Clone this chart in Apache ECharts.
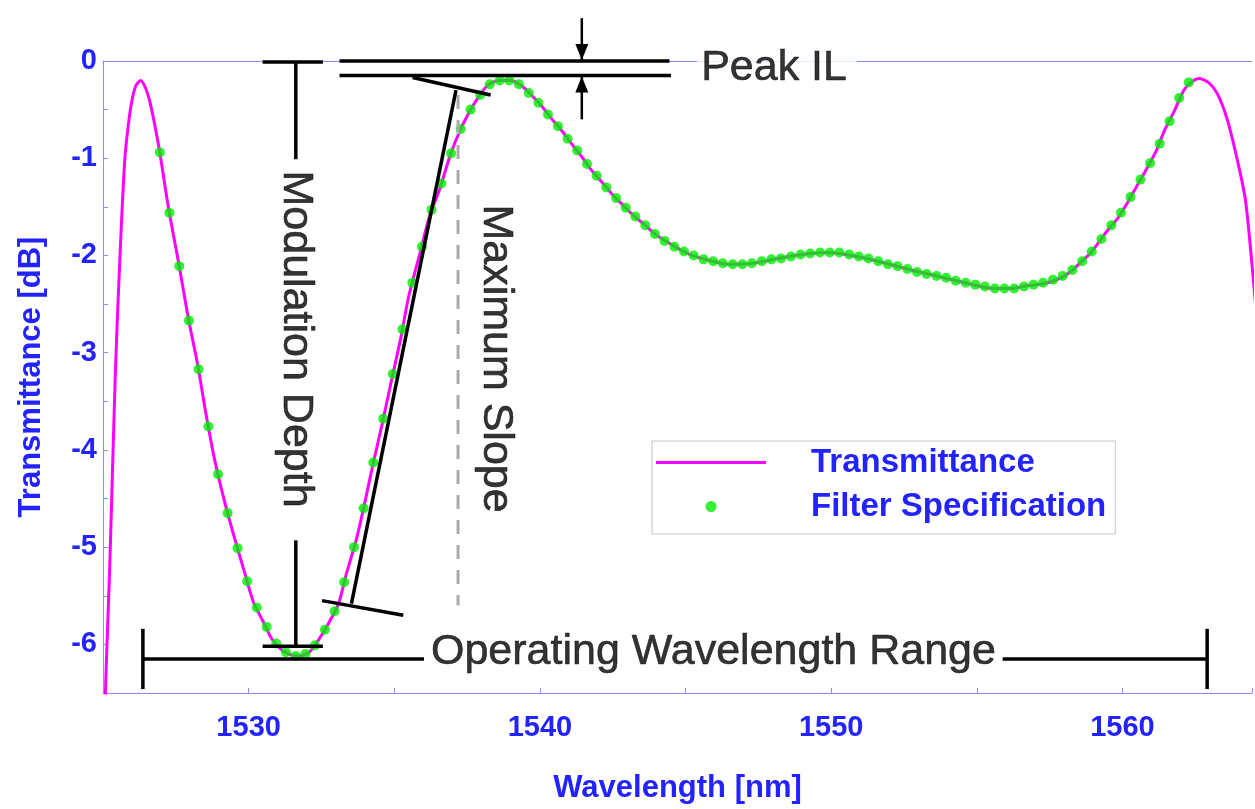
<!DOCTYPE html>
<html>
<head>
<meta charset="utf-8">
<script src="https://cdn.jsdelivr.net/npm/echarts@6/dist/echarts.min.js"></script>
<style>
  html, body { margin: 0; padding: 0; background: #ffffff; }
  #chart { width: 1255px; height: 809px; }
</style>
</head>
<body>
<div id="chart"></div>
<script>
// ---- Transmittance curve (magenta line) ----
const wavelength = [
  1525.07, 1525.10, 1525.16, 1525.22, 1525.32, 1525.42, 1525.50, 1525.58, 1525.66, 1525.75,
  1525.86, 1525.98, 1526.12, 1526.29, 1526.45, 1526.61, 1526.78, 1526.95, 1527.11, 1527.27,
  1527.60, 1527.92, 1528.26, 1528.53, 1528.84, 1529.19, 1529.52, 1529.87, 1530.17, 1530.49,
  1530.81, 1531.15, 1531.48, 1531.75, 1532.08, 1532.41, 1532.75, 1533.09, 1533.35, 1533.69,
  1533.97, 1534.26, 1534.58, 1534.91, 1535.23, 1535.49, 1535.88, 1536.20, 1536.58, 1536.91,
  1537.25, 1537.57, 1537.85, 1538.20, 1538.60, 1539.00, 1539.39, 1539.74, 1540.08, 1540.42,
  1540.76, 1541.11, 1541.45, 1541.79, 1542.14, 1542.48, 1542.88, 1543.22, 1543.62, 1543.96,
  1544.36, 1544.76, 1545.22, 1545.80, 1546.47, 1547.30, 1548.18, 1549.00, 1549.90, 1551.03,
  1552.00, 1552.74, 1553.60, 1554.45, 1555.60, 1556.20, 1556.75, 1557.09, 1557.55, 1557.95,
  1558.29, 1558.57, 1558.89, 1559.20, 1559.52, 1559.83, 1560.17, 1560.49, 1560.83, 1561.17,
  1561.45, 1561.79, 1562.11, 1562.40, 1562.63, 1562.95, 1563.25, 1563.60, 1563.94, 1564.22,
  1564.39, 1564.60, 1564.80
];
const transmittance = [
  -6.60, -6.33, -5.80, -5.31, -4.28, -3.25, -2.60, -2.03, -1.50, -1.01,
  -0.68, -0.43, -0.26, -0.20, -0.27, -0.42, -0.66, -0.94, -1.25, -1.55,
  -2.08, -2.63, -3.14, -3.62, -4.11, -4.55, -4.91, -5.27, -5.57, -5.76,
  -5.95, -6.06, -6.11, -6.12, -6.08, -5.95, -5.78, -5.58, -5.28, -4.93,
  -4.57, -4.16, -3.74, -3.28, -2.84, -2.43, -1.98, -1.61, -1.30, -0.98,
  -0.72, -0.53, -0.39, -0.25, -0.20, -0.20, -0.26, -0.36, -0.47, -0.60,
  -0.72, -0.86, -0.99, -1.13, -1.25, -1.37, -1.49, -1.59, -1.69, -1.78,
  -1.86, -1.93, -2.00, -2.05, -2.09, -2.08, -2.03, -1.99, -1.97, -2.02,
  -2.09, -2.15, -2.21, -2.27, -2.34, -2.34, -2.31, -2.30, -2.27, -2.22,
  -2.15, -2.07, -1.98, -1.86, -1.73, -1.62, -1.46, -1.29, -1.11, -0.92,
  -0.71, -0.51, -0.30, -0.21, -0.18, -0.22, -0.33, -0.60, -1.01, -1.42,
  -1.90, -2.60, -3.40
];

// ---- Filter specification (green dots) ----
const specWavelength = [
  1526.95, 1527.28, 1527.62, 1527.95, 1528.28, 1528.62, 1528.95, 1529.28, 1529.62, 1529.95,
  1530.28, 1530.62, 1530.95, 1531.28, 1531.62, 1531.95, 1532.28, 1532.62, 1532.95, 1533.28,
  1533.62, 1533.95, 1534.28, 1534.62, 1534.95, 1535.28, 1535.62, 1535.95, 1536.28, 1536.62,
  1536.95, 1537.28, 1537.62, 1537.95, 1538.28, 1538.62, 1538.95, 1539.28, 1539.62, 1539.95,
  1540.28, 1540.62, 1540.95, 1541.28, 1541.62, 1541.95, 1542.28, 1542.62, 1542.95, 1543.28,
  1543.62, 1543.95, 1544.28, 1544.62, 1544.95, 1545.28, 1545.62, 1545.95, 1546.28, 1546.62,
  1546.95, 1547.28, 1547.62, 1547.95, 1548.28, 1548.62, 1548.95, 1549.28, 1549.62, 1549.95,
  1550.28, 1550.62, 1550.95, 1551.28, 1551.62, 1551.95, 1552.28, 1552.62, 1552.95, 1553.28,
  1553.62, 1553.95, 1554.28, 1554.62, 1554.95, 1555.28, 1555.62, 1555.95, 1556.28, 1556.62,
  1556.95, 1557.28, 1557.62, 1557.95, 1558.28, 1558.62, 1558.95, 1559.28, 1559.62, 1559.95,
  1560.28, 1560.62, 1560.95, 1561.28, 1561.62, 1561.95, 1562.28
];
const specTransmittance = [
  -0.94, -1.56, -2.11, -2.67, -3.17, -3.76, -4.25, -4.65, -5.01, -5.35,
  -5.62, -5.82, -5.99, -6.08, -6.12, -6.10, -6.01, -5.85, -5.66, -5.36,
  -5.00, -4.60, -4.13, -3.68, -3.22, -2.76, -2.28, -1.91, -1.53, -1.26,
  -0.95, -0.70, -0.50, -0.35, -0.24, -0.20, -0.20, -0.24, -0.33, -0.43,
  -0.55, -0.67, -0.80, -0.92, -1.06, -1.18, -1.30, -1.41, -1.51, -1.60,
  -1.69, -1.78, -1.85, -1.91, -1.96, -2.00, -2.04, -2.06, -2.08, -2.09,
  -2.09, -2.08, -2.06, -2.04, -2.03, -2.01, -1.99, -1.98, -1.97, -1.97,
  -1.97, -1.99, -2.01, -2.03, -2.06, -2.09, -2.11, -2.14, -2.17, -2.19,
  -2.21, -2.23, -2.26, -2.28, -2.30, -2.32, -2.34, -2.34, -2.34, -2.32,
  -2.30, -2.28, -2.25, -2.21, -2.15, -2.06, -1.96, -1.83, -1.69, -1.56,
  -1.40, -1.22, -1.05, -0.85, -0.62, -0.38, -0.22
];

// ---- Axis ticks ----
const xTickLabels = [1530, 1540, 1550, 1560];
const yTickLabels = [0, -1, -2, -3, -4, -5, -6];

// ---- Annotation geometry (data coordinates) ----
const annotationText = [
  { at: [1545.40, -0.07], text: 'Peak IL', rotate: 0, align: 'left', bg: true },
  { at: [1531.62, -2.86], text: 'Modulation Depth', rotate: -90, align: 'center', bg: false },
  { at: [1538.50, -3.06], text: 'Maximum Slope', rotate: -90, align: 'center', bg: false },
  { at: [1545.96, -6.08], text: 'Operating Wavelength Range', rotate: 0, align: 'center', bg: false }
];
const blackSegments = [
  // Modulation depth
  [1530.48, -0.01, 1532.55, -0.01],
  [1531.62, -0.01, 1531.62, -1.01],
  [1531.62, -4.93, 1531.62, -6.02],
  [1530.48, -6.02, 1532.55, -6.02],
  // Peak IL
  [1533.12, 0.0, 1544.45, 0.0],
  [1533.12, -0.15, 1544.50, -0.15],
  // Maximum slope
  [1537.12, -0.30, 1533.53, -5.58],
  [1535.63, -0.17, 1538.31, -0.35],
  [1532.52, -5.55, 1535.31, -5.70],
  // Operating wavelength range
  [1526.37, -6.15, 1536.02, -6.15],
  [1555.89, -6.15, 1562.91, -6.15],
  [1526.37, -5.84, 1526.37, -6.46],
  [1562.91, -5.84, 1562.91, -6.46]
];
const arrowSegments = [
  [1541.44, 0.44, 1541.44, 0.01],
  [1541.44, -0.60, 1541.44, -0.16]
];
const dashedSegments = [
  [1537.19, -0.35, 1537.19, -5.60]
];

const BLUE = '#2323ff';
const AXIS_BLUE = '#8c8cff';
const FONT = 'Liberation Sans, Arial, sans-serif';
// thin horizontal bar icon (tiny corner specks keep the icon box full height)
const LINE_ICON = 'path://M0,0L0.02,0L0.02,0.02L0,0.02Z M0,4L110,4L110,7L0,7Z M109.98,10.98L110,10.98L110,11L109.98,11Z';

function segmentSeries(name, data, style, arrow) {
  return {
    name: name,
    type: 'custom',
    clip: false,
    silent: true,
    z: 6,
    encode: { x: [0, 2], y: [1, 3] },
    data: data,
    renderItem: function (params, api) {
      const p1 = api.coord([api.value(0), api.value(1)]);
      const p2 = api.coord([api.value(2), api.value(3)]);
      const children = [{
        type: 'line',
        shape: { x1: p1[0], y1: p1[1], x2: p2[0], y2: p2[1] },
        style: Object.assign({ fill: null }, style)
      }];
      if (arrow) {
        const dx = p2[0] - p1[0], dy = p2[1] - p1[1];
        const len = Math.sqrt(dx * dx + dy * dy) || 1;
        const ux = dx / len, uy = dy / len;
        const hl = 16, hw = 6.5;
        const bx = p2[0] - ux * hl, by = p2[1] - uy * hl;
        children.push({
          type: 'polygon',
          shape: { points: [[p2[0], p2[1]], [bx - uy * hw, by + ux * hw], [bx + uy * hw, by - ux * hw]] },
          style: { fill: '#000000', stroke: null }
        });
      }
      return { type: 'group', children: children };
    }
  };
}

const chart = echarts.init(document.getElementById('chart'), null, { renderer: 'canvas' });
chart.setOption({
  animation: false,
  backgroundColor: '#ffffff',
  grid: { left: 103, right: 0, top: 61, bottom: 112, show: false },
  legend: {
    data: [
      { name: 'Transmittance', icon: LINE_ICON, itemStyle: { color: '#ff00ff' } },
      { name: 'Filter Specification' }
    ],
    orient: 'vertical',
    left: 652, top: 441,
    itemWidth: 110, itemHeight: 11, itemGap: 11,
    padding: [5, 9, 11, 4],
    borderColor: '#c4c4c4', borderWidth: 1,
    backgroundColor: '#ffffff',
    textStyle: { color: BLUE, fontWeight: 'bold', fontSize: 33, fontFamily: FONT, lineHeight: 30, padding: [0, 0, 0, 40] },
    selectedMode: false
  },
  xAxis: [
    {
      type: 'value', min: 1525, max: 1564.45, interval: 5,
      name: 'Wavelength [nm]', nameLocation: 'middle', nameGap: 80,
      nameTextStyle: { color: BLUE, fontWeight: 'bold', fontSize: 31, fontFamily: FONT },
      axisLine: { show: true, onZero: false, lineStyle: { color: AXIS_BLUE, width: 1 } },
      axisTick: { show: true, inside: true, length: 5, lineStyle: { color: AXIS_BLUE } },
      axisLabel: {
        color: BLUE, fontWeight: 'bold', fontSize: 29, fontFamily: FONT, margin: 20,
        formatter: v => xTickLabels.indexOf(v) >= 0 ? String(v) : ''
      },
      splitLine: { show: false }
    },
    {
      type: 'value', min: 1525, max: 1564.45, interval: 5, position: 'top',
      axisLine: { show: true, onZero: false, lineStyle: { color: AXIS_BLUE, width: 1 } },
      axisTick: { show: false },
      axisLabel: { show: false },
      splitLine: { show: false }
    }
  ],
  yAxis: {
    type: 'value', min: -6.5, max: 0, interval: 0.5,
    name: 'Transmittance [dB]', nameLocation: 'middle', nameGap: 56,
    nameTextStyle: { color: BLUE, fontWeight: 'bold', fontSize: 31, fontFamily: FONT },
    axisLine: { show: true, onZero: false, lineStyle: { color: AXIS_BLUE, width: 1 } },
    axisTick: { show: true, inside: true, length: 5, lineStyle: { color: AXIS_BLUE } },
    axisLabel: {
      color: BLUE, fontWeight: 'bold', fontSize: 29, fontFamily: FONT, margin: 6,
      formatter: v => yTickLabels.indexOf(v) >= 0 ? String(v) : ''
    },
    splitLine: { show: false }
  },
  series: [
    {
      name: 'Transmittance',
      type: 'line',
      data: wavelength.map((w, i) => [w, transmittance[i]]),
      symbol: 'none',
      showSymbol: false,
      smooth: 0.25,
      lineStyle: { color: '#ff00ff', width: 3 },
      itemStyle: { color: '#ff00ff' },
      z: 2
    },
    {
      name: 'Filter Specification',
      type: 'scatter',
      data: specWavelength.map((w, i) => [w, specTransmittance[i]]),
      symbol: 'circle',
      symbolSize: 10,
      itemStyle: { color: '#00ee00' },
      z: 3
    },
    segmentSeries('dashed', dashedSegments, { stroke: '#ababab', lineWidth: 3, lineDash: [14, 11] }, false),
    segmentSeries('lines', blackSegments, { stroke: '#000000', lineWidth: 3.5 }, false),
    segmentSeries('arrows', arrowSegments, { stroke: '#000000', lineWidth: 2.5 }, true),
    {
      name: 'labels',
      type: 'scatter',
      clip: false,
      symbolSize: 0,
      silent: true,
      z: 7,
      data: annotationText.map(t => ({
        value: t.at,
        label: {
          show: true,
          formatter: t.text,
          position: 'inside',
          rotate: t.rotate,
          align: t.align,
          color: '#000000',
          textBorderColor: '#000000',
          textBorderWidth: 0.6,
          fontSize: 43,
          fontFamily: FONT,
          backgroundColor: t.bg ? '#ffffff' : 'transparent',
          padding: t.bg ? [0, 10, 0, 4] : 0
        }
      }))
    }
  ]
});
</script>
</body>
</html>
